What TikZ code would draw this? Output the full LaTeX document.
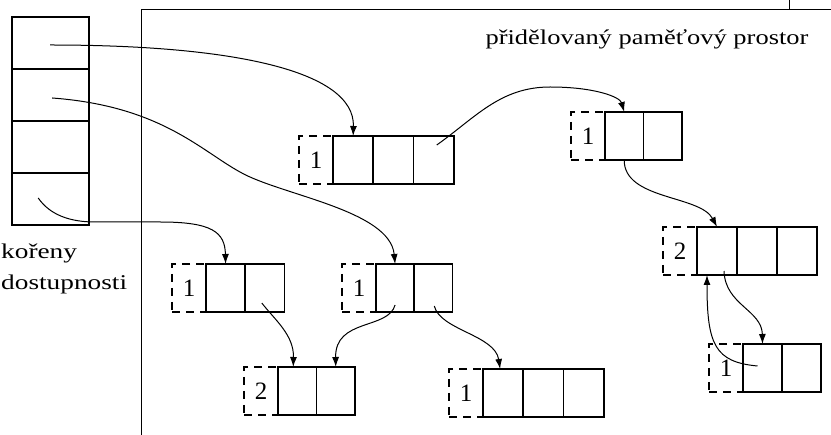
\documentclass[tikz,border=0pt]{standalone}
\usepackage{fontspec}
\setmainfont{Liberation Serif}
\usepackage{graphicx}
\usetikzlibrary{arrows.meta,calc}
\tikzset{
  cell/.style={draw, line width=1.7pt, minimum height=48pt, inner sep=0pt, outer sep=0pt},
  rootcell/.style={draw, line width=1.6pt, minimum width=77pt, minimum height=52pt, inner sep=0pt, outer sep=0pt},
  countbox/.style={draw, line width=1.3pt, dash pattern=on 8pt off 6pt, minimum width=34pt, minimum height=48pt,
    inner sep=0pt, outer sep=0pt, font=\fontsize{25}{25}\selectfont},
  ptr/.style={line width=1pt, -{Latex[length=10pt,width=7pt]}},
  frame/.style={line width=1.5pt},
  lbl/.style={font=\fontsize{21}{24}\selectfont, inner sep=0pt},
}
\newcommand{\mkrecord}[6]{%
  \node[countbox, anchor=north east] (#1c) at (#2,#3) {#6};
  \foreach \i in {1,...,#4}{
    \node[cell, minimum width=#5pt, anchor=north west] (#1\i) at ({#2+(\i-1)*#5},#3) {};
  }%
}
\begin{document}
\begin{tikzpicture}[x=1pt,y=-1pt]
\fill[white] (0,0) rectangle (831,435);
\useasboundingbox (0,0) rectangle (831,435);

% frame of the allocated memory space
\coordinate (fb) at (141.7,435);
\coordinate (ftl) at (141.7,9.5);
\coordinate (ftr) at (831,9.5);
\coordinate (tickb) at (789,0);
\coordinate (tickt) at (789,9.5);
\draw[frame] (fb) -- (ftl) -- (ftr);
\draw[line width=1pt] (tickb) -- (tickt);

\node[lbl, anchor=base] (title) at (647,45) {\scalebox{1.26}[1]{přidělovaný paměťový prostor}};

% roots
\foreach \k in {1,...,4}{
  \node[rootcell, anchor=north west] (R\k) at (11.7,{17+(\k-1)*52}) {};
}
\node[lbl, anchor=base west] (roots1) at (1,259) {\scalebox{1.3}[1]{kořeny}};
\node[lbl, anchor=base west] (roots2) at (1,290) {\scalebox{1.3}[1]{dostupnosti}};

% records
\mkrecord{A}{333}{136}{3}{40.3}{1}
\mkrecord{B}{605}{112}{2}{38.4}{1}
\mkrecord{C}{697}{227}{3}{40.1}{2}
\mkrecord{D}{743}{344}{2}{39}{1}
\mkrecord{E}{206}{264}{2}{39.2}{1}
\mkrecord{F}{278}{367}{2}{38.5}{2}
\mkrecord{G}{376}{264}{2}{38.2}{1}
\mkrecord{H}{483}{369}{3}{40.3}{1}

% pointers
\draw[ptr] ($(R1.center)+(0,2)$) .. controls (230,45) and (355,70) .. (A1.north);
\draw[ptr] ($(R2.center)+(2,3)$) .. controls (160,106) and (200,150) .. (240,172)
   .. controls (280,195) and (390,210) .. (G1.north);
\draw[ptr] ($(R4.center)+(-12,-1)$) .. controls (50,215) and (70,222) .. (95,222) -- (160,222)
   .. controls (212,222) and (225,232) .. (E1.north);
\draw[ptr] ($(A3.center)+(3,-15)$) .. controls (475,118) and (500,87) .. (550,87)
   .. controls (595,87) and (620,97) .. (B1.north);
\draw[ptr] (B1.south) .. controls (624,200) and (700,195) .. (C1.north);
\draw[ptr] ($(C1.south)+(7,-4)$) .. controls (725,305) and (762,310) .. (D1.north);
\draw[ptr] ($(D1.center)+(-5,-2)$) .. controls (715,362) and (707,345) .. ($(C1.south west)+(10,0)$);
\draw[ptr] ($(E2.center)+(-3,15)$) .. controls (275,320) and (294,335) .. ($(F1.north)+(-4,0)$);
\draw[ptr] ($(G1.center)+(0,17)$) .. controls (388,330) and (335,318) .. (F2.north);
\draw[ptr] ($(G2.center)+(1,18)$) .. controls (440,330) and (495,335) .. ($(H1.north)+(-3,0)$);
\end{tikzpicture}
\end{document}
